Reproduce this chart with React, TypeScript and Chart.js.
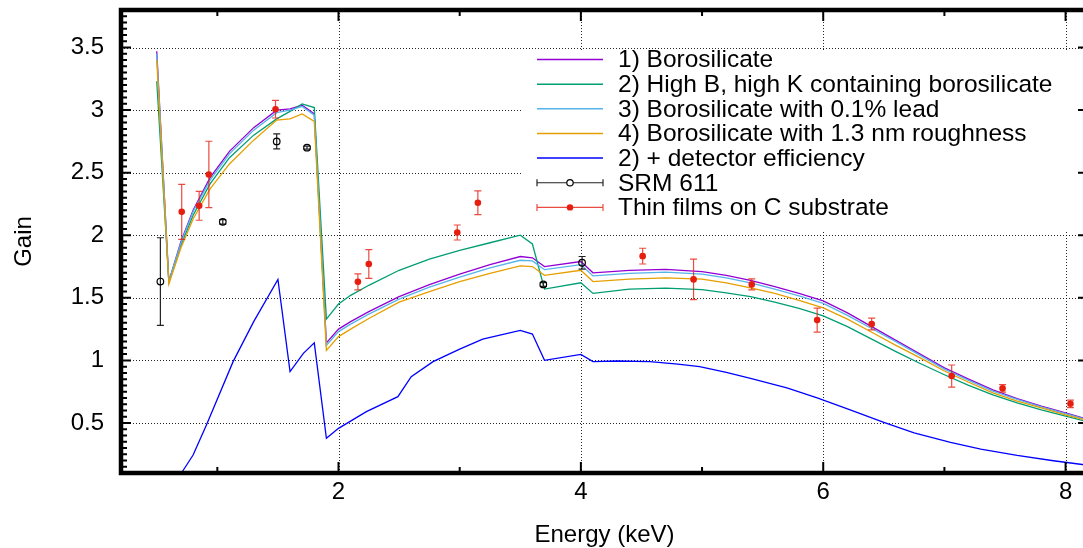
import React, { useEffect, useRef } from 'react';
import { Chart, registerables } from 'chart.js';

Chart.register(...registerables);

const FONT = '"Liberation Sans", Arial, Helvetica, sans-serif';

// ---- model curves (common energy grid, keV) ----
const energy = [0.50, 0.60, 0.70, 0.80, 0.94, 1.10, 1.30, 1.49, 1.60, 1.70, 1.80, 1.90, 2.00, 2.10, 2.25, 2.50, 2.75, 3.00, 3.25, 3.50, 3.60, 3.70, 4.00, 4.10, 4.40, 4.70, 5.00, 5.20, 5.40, 5.60, 5.80, 6.00, 6.20, 6.40, 6.60, 6.80, 7.00, 7.20, 7.40, 7.60, 7.80, 8.00, 8.20];
const borosilicate = [3.47, 1.63, 1.95, 2.20, 2.46, 2.67, 2.86, 3.00, 3.01, 3.04, 2.97, 1.14, 1.25, 1.31, 1.39, 1.51, 1.605, 1.69, 1.765, 1.83, 1.82, 1.75, 1.79, 1.70, 1.72, 1.727, 1.71, 1.68, 1.64, 1.59, 1.535, 1.475, 1.38, 1.27, 1.16, 1.05, 0.94, 0.85, 0.765, 0.695, 0.635, 0.58, 0.525];
const highBK = [3.23, 1.63, 1.92, 2.16, 2.41, 2.62, 2.80, 2.93, 2.99, 3.05, 3.02, 1.33, 1.45, 1.52, 1.60, 1.72, 1.81, 1.88, 1.94, 2.00, 1.93, 1.57, 1.62, 1.535, 1.57, 1.578, 1.565, 1.54, 1.51, 1.465, 1.415, 1.355, 1.27, 1.17, 1.07, 0.975, 0.885, 0.80, 0.725, 0.66, 0.605, 0.555, 0.505];
const withLead = [3.45, 1.63, 1.94, 2.19, 2.44, 2.65, 2.84, 2.98, 3.00, 3.03, 2.96, 1.12, 1.23, 1.29, 1.37, 1.49, 1.585, 1.665, 1.74, 1.80, 1.795, 1.725, 1.765, 1.675, 1.695, 1.705, 1.69, 1.66, 1.62, 1.57, 1.515, 1.455, 1.36, 1.255, 1.15, 1.04, 0.93, 0.84, 0.755, 0.688, 0.628, 0.575, 0.52];
const withRoughness = [3.40, 1.61, 1.90, 2.13, 2.37, 2.57, 2.76, 2.92, 2.93, 2.97, 2.91, 1.08, 1.19, 1.25, 1.335, 1.465, 1.55, 1.63, 1.695, 1.755, 1.75, 1.68, 1.72, 1.63, 1.65, 1.66, 1.65, 1.62, 1.58, 1.535, 1.48, 1.42, 1.33, 1.225, 1.12, 1.02, 0.915, 0.825, 0.74, 0.675, 0.62, 0.565, 0.515];

// ---- 2) + detector efficiency ----
const detEnergy = [0.65, 0.72, 0.80, 0.91, 1.13, 1.30, 1.50, 1.60, 1.71, 1.80, 1.90, 2.00, 2.23, 2.49, 2.60, 2.78, 3.00, 3.19, 3.50, 3.60, 3.70, 4.00, 4.10, 4.30, 4.57, 4.80, 4.98, 5.20, 5.40, 5.70, 5.95, 6.20, 6.50, 6.75, 7.05, 7.30, 7.60, 7.90, 8.20];
const detGain = [0.02, 0.124, 0.244, 0.483, 0.99, 1.31, 1.647, 0.91, 1.056, 1.14, 0.377, 0.457, 0.59, 0.71, 0.87, 0.99, 1.09, 1.17, 1.24, 1.21, 1.00, 1.048, 0.99, 0.995, 0.99, 0.97, 0.95, 0.905, 0.856, 0.78, 0.70, 0.612, 0.505, 0.42, 0.345, 0.29, 0.24, 0.198, 0.16];

// ---- measurements ----
const srmEnergy = [0.53, 1.045, 1.49, 1.74, 3.69, 4.01];
const srmGain = [1.63, 2.107, 2.75, 2.70, 1.607, 1.78];
const srmErr = [0.35, 0.018, 0.06, 0.012, 0.015, 0.05];

const filmEnergy = [0.706, 0.85, 0.93, 1.48, 2.16, 2.25, 2.98, 3.15, 4.51, 4.93, 5.41, 5.95, 6.40, 7.06, 7.48, 8.04];
const filmGain = [2.187, 2.235, 2.486, 3.007, 1.628, 1.77, 2.022, 2.26, 1.833, 1.647, 1.607, 1.322, 1.29, 0.875, 0.776, 0.653];
const filmErr = [0.22, 0.115, 0.265, 0.07, 0.064, 0.115, 0.06, 0.095, 0.063, 0.162, 0.044, 0.096, 0.047, 0.088, 0.03, 0.03];

// ---- axes ----
const xMajorTicks = [2, 4, 6, 8];
const xMinorTicks = [1, 3, 5, 7];
const yMajorTicks = [0.5, 1, 1.5, 2, 2.5, 3, 3.5];
const X_MIN = 0.205, X_MAX = 8.185;
const Y_MIN = 0.1, Y_MAX = 3.8;

const legendLabels = [
  '1) Borosilicate',
  '2) High B, high K containing borosilicate',
  '3) Borosilicate with 0.1% lead',
  '4) Borosilicate with 1.3 nm roughness',
  '2) + detector efficiency',
  'SRM 611',
  'Thin films on C substrate',
];

const C_PURPLE = '#9400d3';
const C_GREEN = '#009e73';
const C_CYAN = '#56b4e9';
const C_ORANGE = '#e69f00';
const C_BLUE = '#0000ff';
const C_BLACK = '#000000';
const C_RED = '#e51e10';
const C_RED_BAR = 'rgba(229,30,16,0.8)';

const pts = (xs: number[], ys: number[]) => xs.map((x, i) => ({ x, y: ys[i] }));

function drawErrorBars(chart: any, xs: number[], ys: number[], es: number[], color: string) {
  const { ctx, scales } = chart;
  const sx = scales.x, sy = scales.y;
  ctx.save();
  ctx.strokeStyle = color;
  ctx.lineWidth = 1.2;
  ctx.beginPath();
  xs.forEach((x, i) => {
    const px = sx.getPixelForValue(x);
    const p1 = sy.getPixelForValue(ys[i] - es[i]);
    const p2 = sy.getPixelForValue(ys[i] + es[i]);
    ctx.moveTo(px, p1); ctx.lineTo(px, p2);
    ctx.moveTo(px - 3.5, p1); ctx.lineTo(px + 3.5, p1);
    ctx.moveTo(px - 3.5, p2); ctx.lineTo(px + 3.5, p2);
  });
  ctx.stroke();
  ctx.restore();
}

const framePlugin = {
  id: 'gnuFrame',
  beforeDatasetsDraw(chart: any) {
    const { ctx, chartArea: a, scales } = chart;
    const sx = scales.x, sy = scales.y;
    ctx.save();
    // dotted grid
    ctx.strokeStyle = 'rgba(0,0,0,0.85)';
    ctx.lineWidth = 1;
    ctx.setLineDash([1, 2]);
    ctx.beginPath();
    yMajorTicks.forEach((v) => {
      const py = Math.round(sy.getPixelForValue(v)) + 0.5;
      ctx.moveTo(a.left, py); ctx.lineTo(a.right, py);
    });
    xMajorTicks.forEach((v) => {
      const px = Math.round(sx.getPixelForValue(v)) + 0.5;
      ctx.moveTo(px, a.top); ctx.lineTo(px, a.bottom);
    });
    ctx.stroke();
    ctx.setLineDash([]);

    // legend box (opaque)
    const boxL = 523, boxT = 50, boxB = 231;
    ctx.fillStyle = '#ffffff';
    ctx.fillRect(boxL, boxT, a.right - boxL, boxB - boxT);
    const rowY0 = 59.5, rowH = 24.65, sL = 537, sR = 603, tX = 618;
    const lineColors = [C_PURPLE, C_GREEN, C_CYAN, C_ORANGE, C_BLUE];
    ctx.font = `24.5px ${FONT}`;
    ctx.textBaseline = 'middle';
    ctx.textAlign = 'left';
    legendLabels.forEach((lab, i) => {
      const y = rowY0 + i * rowH;
      if (i < 5) {
        ctx.strokeStyle = lineColors[i];
        ctx.lineWidth = 1.5;
        ctx.beginPath(); ctx.moveTo(sL, y); ctx.lineTo(sR, y); ctx.stroke();
      } else {
        const col = i === 5 ? '#222' : C_RED_BAR;
        ctx.strokeStyle = col;
        ctx.lineWidth = 1.2;
        ctx.beginPath();
        ctx.moveTo(sL, y); ctx.lineTo(sR, y);
        ctx.moveTo(sL, y - 3.5); ctx.lineTo(sL, y + 3.5);
        ctx.moveTo(sR, y - 3.5); ctx.lineTo(sR, y + 3.5);
        ctx.stroke();
        const cx = (sL + sR) / 2;
        ctx.beginPath(); ctx.arc(cx, y, 3.2, 0, Math.PI * 2);
        if (i === 5) {
          ctx.fillStyle = '#fff'; ctx.fill();
          ctx.strokeStyle = C_BLACK; ctx.lineWidth = 1.2; ctx.stroke();
        } else {
          ctx.fillStyle = C_RED; ctx.fill();
        }
      }
      ctx.fillStyle = '#000';
      ctx.fillText(lab, tX, y + 1);
    });
    ctx.restore();
  },
  beforeDatasetDraw(chart: any, args: any) {
    if (args.index === 0) drawErrorBars(chart, filmEnergy, filmGain, filmErr, C_RED_BAR);
    if (args.index === 1) drawErrorBars(chart, srmEnergy, srmGain, srmErr, '#222');
  },
  afterDraw(chart: any) {
    const { ctx, chartArea: a, scales } = chart;
    const sx = scales.x, sy = scales.y;
    ctx.save();
    ctx.strokeStyle = '#000';
    // ticks
    ctx.lineWidth = 2;
    ctx.beginPath();
    for (let k = 0; k <= 80; k++) {
      const v = Math.round((0.1 + k * 0.05) * 100) / 100;
      if (v > Y_MAX + 1e-9) break;
      const py = sy.getPixelForValue(v);
      const major = Math.abs(v * 2 - Math.round(v * 2)) < 1e-6;
      ctx.moveTo(a.left, py); ctx.lineTo(a.left + (major ? 10 : 6), py);
      if (major) { ctx.moveTo(a.right, py); ctx.lineTo(a.right - 10, py); }
    }
    xMajorTicks.forEach((v) => {
      const px = sx.getPixelForValue(v);
      ctx.moveTo(px, a.bottom); ctx.lineTo(px, a.bottom - 11);
      ctx.moveTo(px, a.top); ctx.lineTo(px, a.top + 11);
    });
    xMinorTicks.forEach((v) => {
      const px = sx.getPixelForValue(v);
      ctx.moveTo(px, a.bottom); ctx.lineTo(px, a.bottom - 6);
      ctx.moveTo(px, a.top); ctx.lineTo(px, a.top + 6);
    });
    ctx.stroke();
    // border
    ctx.lineWidth = 4.5;
    ctx.strokeRect(a.left, a.top, a.right - a.left, a.bottom - a.top);
    // axis titles
    ctx.fillStyle = '#000';
    ctx.font = `24px ${FONT}`;
    ctx.textAlign = 'center';
    ctx.textBaseline = 'middle';
    ctx.fillText('Energy (keV)', (a.left + a.right) / 2, 535);
    ctx.translate(24, (a.top + a.bottom) / 2);
    ctx.rotate(-Math.PI / 2);
    ctx.fillText('Gain', 0, 0);
    ctx.restore();
  },
};

export default function App() {
  const ref = useRef<HTMLCanvasElement | null>(null);
  useEffect(() => {
    if (!ref.current) return;
    const lineDs = (label: string, xs: number[], ys: number[], color: string, order: number) => ({
      label,
      data: pts(xs, ys),
      showLine: true,
      borderColor: color,
      backgroundColor: color,
      borderWidth: 1.3,
      pointRadius: 0,
      order,
    });
    const chart = new Chart(ref.current, {
      type: 'scatter',
      data: {
        datasets: [
          {
            label: legendLabels[6],
            data: pts(filmEnergy, filmGain),
            showLine: false,
            pointRadius: 3.3,
            pointBackgroundColor: C_RED,
            pointBorderColor: C_RED,
            pointBorderWidth: 0,
            order: 0,
          } as any,
          {
            label: legendLabels[5],
            data: pts(srmEnergy, srmGain),
            showLine: false,
            pointRadius: 3.3,
            pointBackgroundColor: 'rgba(255,255,255,0)',
            pointBorderColor: C_BLACK,
            pointBorderWidth: 1.2,
            order: 1,
          } as any,
          lineDs(legendLabels[4], detEnergy, detGain, C_BLUE, 2),
          lineDs(legendLabels[3], energy, withRoughness, C_ORANGE, 3),
          lineDs(legendLabels[2], energy, withLead, C_CYAN, 4),
          lineDs(legendLabels[1], energy, highBK, C_GREEN, 5),
          lineDs(legendLabels[0], energy, borosilicate, C_PURPLE, 6),
        ],
      },
      options: {
        responsive: false,
        animation: false,
        devicePixelRatio: 1,
        layout: { padding: { top: 10, right: 7, left: 0, bottom: 0 } },
        plugins: { legend: { display: false }, tooltip: { enabled: false } },
        scales: {
          x: {
            type: 'linear',
            min: X_MIN,
            max: X_MAX,
            grid: { display: false, drawTicks: false },
            border: { display: false },
            ticks: {
              stepSize: 2,
              includeBounds: false,
              padding: 5,
              color: '#000',
              font: { family: FONT, size: 24 },
              maxRotation: 0,
              callback: (v: any) => String(v),
            },
            afterFit: (s: any) => { s.height = 75; s.paddingLeft = 0; s.paddingRight = 0; },
          },
          y: {
            type: 'linear',
            min: Y_MIN,
            max: Y_MAX,
            grid: { display: false, drawTicks: false },
            border: { display: false },
            ticks: {
              stepSize: 0.5,
              includeBounds: false,
              padding: 17,
              color: '#000',
              font: { family: FONT, size: 24 },
              callback: (v: any) => String(Math.round(v * 10) / 10),
            },
            afterFit: (s: any) => { s.width = 121; s.paddingTop = 0; s.paddingBottom = 0; },
          },
        },
      },
      plugins: [framePlugin],
    } as any);
    return () => chart.destroy();
  }, []);
  return (
    <div style={{ position: 'absolute', left: 0, top: 0, width: 1083, height: 548, overflow: 'hidden', background: '#fff' }}>
      <canvas ref={ref} width={1095} height={548} style={{ display: 'block', width: 1095, height: 548 }} />
    </div>
  );
}
